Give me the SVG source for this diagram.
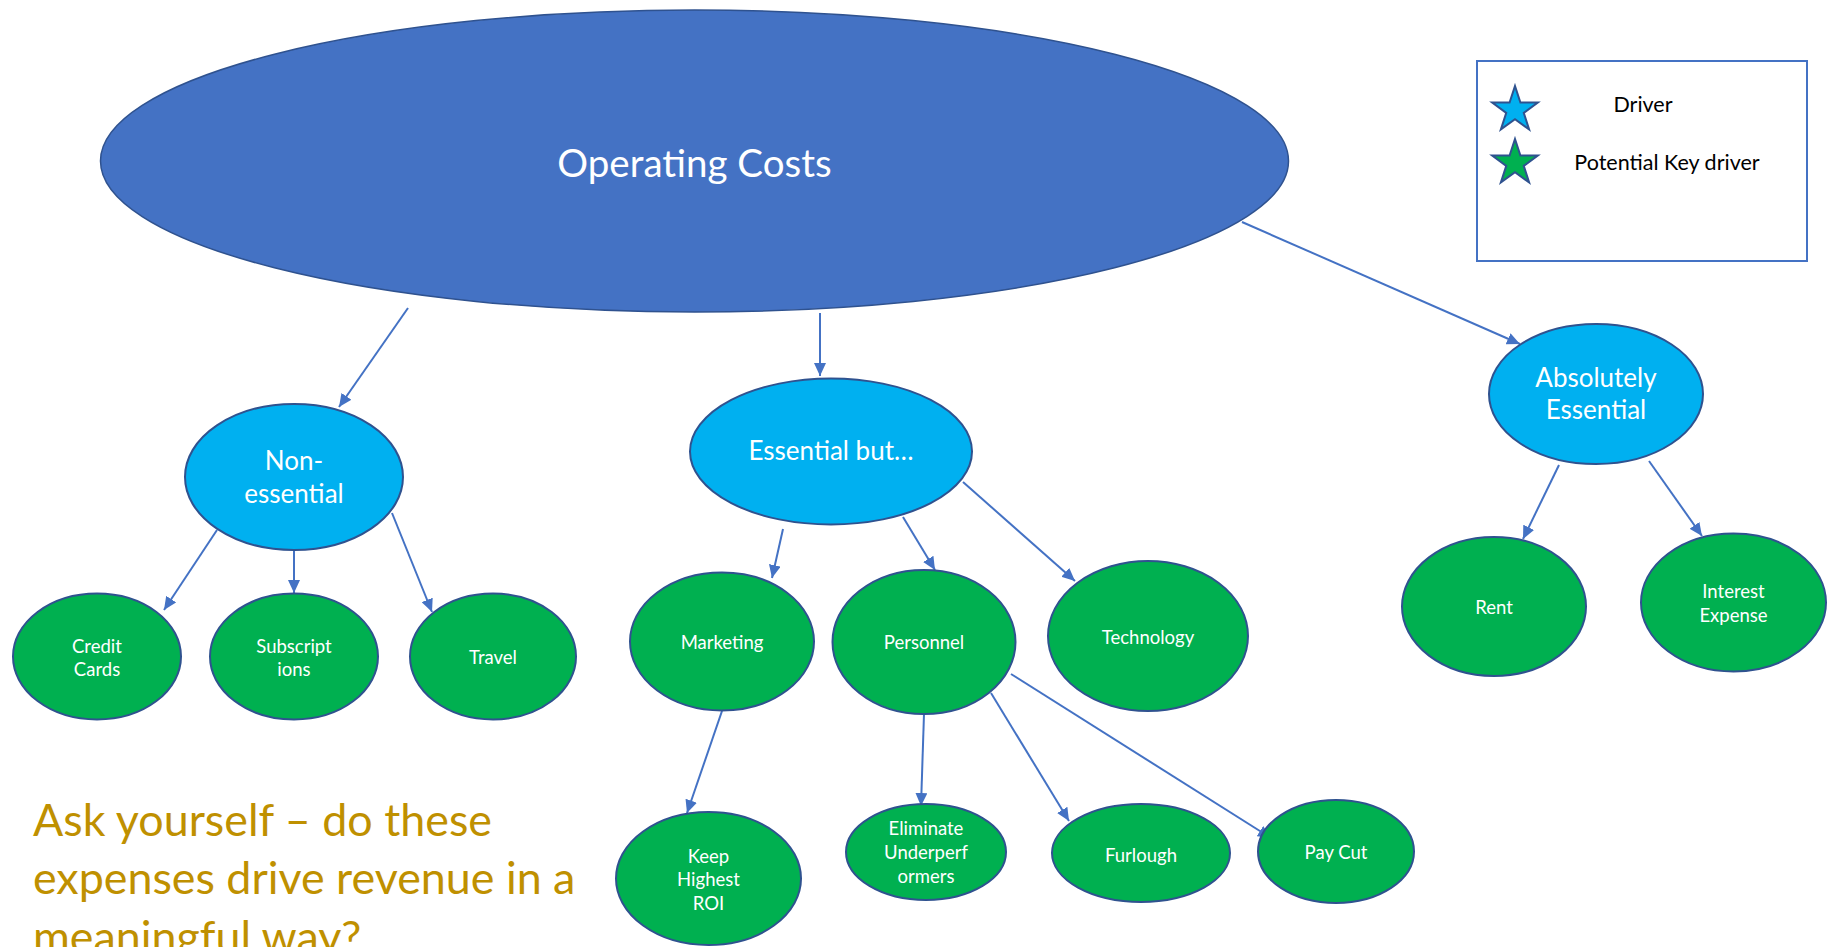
<svg xmlns="http://www.w3.org/2000/svg" width="1839" height="947" viewBox="0 0 1839 947">
  <style>
    .lbl { font-family: Lato, "Open Sans", "Liberation Sans", sans-serif; fill: #ffffff; text-anchor: middle; }
    .root { fill: #4472C4; stroke: #2F528F; stroke-width: 1.5; }
    .mid { fill: #00B0F0; stroke: #2F528F; stroke-width: 2; }
    .leaf { fill: #00B050; stroke: #2F528F; stroke-width: 2; }
    .big { font-size: 38.5px; }
    .m { font-size: 26px; }
    .s { font-size: 18.5px; }
    .conn line { stroke: #4472C4; stroke-width: 2; marker-end: url(#arrow); }
    .legend-text { font-family: Lato, "Open Sans", "Liberation Sans", sans-serif; font-size: 21.5px; fill: #000000; text-anchor: middle; }
    .note { font-family: Lato, "Open Sans", "Liberation Sans", sans-serif; font-size: 44.8px; fill: #BF9000; }
  </style>
  <defs>
    <marker id="arrow" markerUnits="userSpaceOnUse" markerWidth="13" markerHeight="12" viewBox="0 0 13 12" refX="13" refY="6" orient="auto">
      <path d="M0,0 L13,6 L0,12 z" fill="#4472C4"/>
    </marker>
    <path id="star" d="M0,-24 L5.41,-7.44 L22.83,-7.42 L8.75,2.84 L14.11,19.42 L0,9.2 L-14.11,19.42 L-8.75,2.84 L-22.83,-7.42 L-5.41,-7.44 Z" stroke="#2F528F" stroke-width="2" stroke-linejoin="miter"/>
  </defs>

  <rect width="1839" height="947" fill="#ffffff"/>

  <!-- connectors -->
  <g id="connectors" class="conn">
    <line x1="408" y1="308" x2="339" y2="407"/>
    <line x1="820" y1="313" x2="820" y2="376"/>
    <line x1="1242" y1="222" x2="1520" y2="344"/>
    <line x1="217" y1="530" x2="164" y2="610"/>
    <line x1="294" y1="550" x2="294" y2="593"/>
    <line x1="392" y1="513" x2="432" y2="612"/>
    <line x1="783" y1="529" x2="772" y2="578"/>
    <line x1="903" y1="517" x2="935" y2="570"/>
    <line x1="963" y1="482" x2="1075" y2="581"/>
    <line x1="1559" y1="465" x2="1523" y2="539"/>
    <line x1="1649" y1="461" x2="1702" y2="536"/>
    <line x1="722" y1="711" x2="687" y2="813"/>
    <line x1="924" y1="714" x2="921" y2="806"/>
    <line x1="991" y1="693" x2="1069" y2="821"/>
    <line x1="1011" y1="674" x2="1271" y2="838"/>
  </g>

  <!-- root -->
  <g id="operating-costs">
    <ellipse class="root" cx="694.5" cy="161" rx="594" ry="151"/>
    <text class="lbl big" x="694.5" y="177">Operating Costs</text>
  </g>

  <!-- second level -->
  <g id="non-essential">
    <ellipse class="mid" cx="294" cy="477" rx="109" ry="73"/>
    <text class="lbl m" x="294" y="470">Non-</text>
    <text class="lbl m" x="294" y="503">essential</text>
  </g>
  <g id="essential-but">
    <ellipse class="mid" cx="831" cy="451.5" rx="141" ry="73"/>
    <text class="lbl m" x="831" y="460">Essential but…</text>
  </g>
  <g id="absolutely-essential">
    <ellipse class="mid" cx="1596" cy="394" rx="107" ry="70"/>
    <text class="lbl m" x="1596" y="387">Absolutely</text>
    <text class="lbl m" x="1596" y="419">Essential</text>
  </g>

  <!-- leaves: non-essential -->
  <g id="credit-cards">
    <ellipse class="leaf" cx="97" cy="656.5" rx="84" ry="63"/>
    <text class="lbl s" x="97" y="653">Credit</text>
    <text class="lbl s" x="97" y="676">Cards</text>
  </g>
  <g id="subscriptions">
    <ellipse class="leaf" cx="294" cy="656.5" rx="84" ry="63"/>
    <text class="lbl s" x="294" y="653">Subscript</text>
    <text class="lbl s" x="294" y="676">ions</text>
  </g>
  <g id="travel">
    <ellipse class="leaf" cx="493" cy="656.5" rx="83" ry="63"/>
    <text class="lbl s" x="493" y="664">Travel</text>
  </g>

  <!-- leaves: essential but -->
  <g id="marketing">
    <ellipse class="leaf" cx="722" cy="641.5" rx="92" ry="69"/>
    <text class="lbl s" x="722" y="649">Marketing</text>
  </g>
  <g id="personnel">
    <ellipse class="leaf" cx="924" cy="642" rx="91.5" ry="72"/>
    <text class="lbl s" x="924" y="649">Personnel</text>
  </g>
  <g id="technology">
    <ellipse class="leaf" cx="1148" cy="636" rx="100" ry="75"/>
    <text class="lbl s" x="1148" y="644">Technology</text>
  </g>

  <!-- leaves: absolutely essential -->
  <g id="rent">
    <ellipse class="leaf" cx="1494" cy="606.5" rx="92" ry="69.5"/>
    <text class="lbl s" x="1494" y="614">Rent</text>
  </g>
  <g id="interest-expense">
    <ellipse class="leaf" cx="1733.5" cy="602.5" rx="92.5" ry="69"/>
    <text class="lbl s" x="1733.5" y="598">Interest</text>
    <text class="lbl s" x="1733.5" y="622">Expense</text>
  </g>

  <!-- third level -->
  <g id="keep-highest-roi">
    <ellipse class="leaf" cx="708.5" cy="878.5" rx="92.5" ry="66.5"/>
    <text class="lbl s" x="708.5" y="863">Keep</text>
    <text class="lbl s" x="708.5" y="886">Highest</text>
    <text class="lbl s" x="708.5" y="910">ROI</text>
  </g>
  <g id="eliminate-underperformers">
    <ellipse class="leaf" cx="926" cy="852" rx="80" ry="48"/>
    <text class="lbl s" x="926" y="835">Eliminate</text>
    <text class="lbl s" x="926" y="859">Underperf</text>
    <text class="lbl s" x="926" y="883">ormers</text>
  </g>
  <g id="furlough">
    <ellipse class="leaf" cx="1141" cy="853" rx="89" ry="49"/>
    <text class="lbl s" x="1141" y="862">Furlough</text>
  </g>
  <g id="pay-cut">
    <ellipse class="leaf" cx="1336" cy="851.5" rx="78" ry="51.5"/>
    <text class="lbl s" x="1336" y="859">Pay Cut</text>
  </g>

  <!-- legend -->
  <g id="legend">
    <rect x="1477" y="61" width="330" height="200" fill="#ffffff" stroke="#4472C4" stroke-width="2"/>
    <use href="#star" x="1515" y="110" fill="#00B0F0"/>
    <use href="#star" x="1515" y="163" fill="#00B050"/>
    <text class="legend-text" x="1643" y="112">Driver</text>
    <text class="legend-text" x="1667" y="170">Potential Key driver</text>
  </g>

  <!-- note (third line runs past the bottom edge) -->
  <g id="note">
    <text class="note" x="33" y="836">Ask yourself – do these</text>
    <text class="note" x="33" y="894">expenses drive revenue in a</text>
    <text class="note" x="33" y="953">meaningful way?</text>
  </g>
</svg>
